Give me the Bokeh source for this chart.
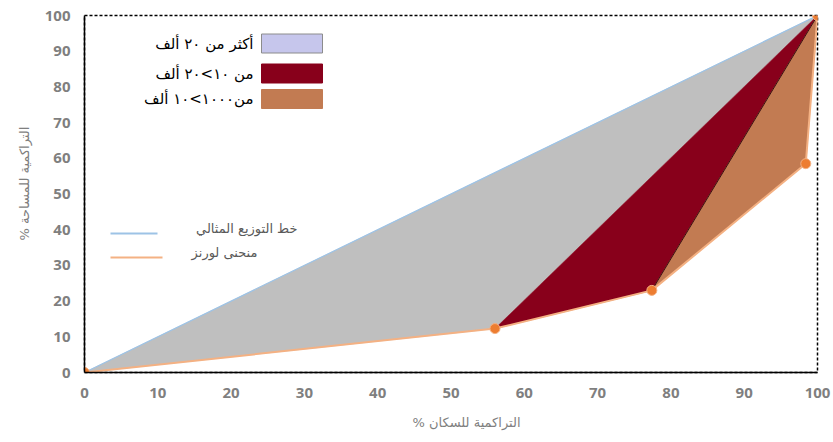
from bokeh.plotting import figure
from bokeh.models import FixedTicker, Label, Title
from bokeh.embed import file_html
from bokeh.resources import INLINE

# Cumulative shares (%) along the Lorenz curve
pop_cum = [0, 56, 77.4, 98.4, 100]
area_cum = [0, 12.3, 23, 58.5, 100]

# Line of equal distribution
ideal_x = [0, 100]
ideal_y = [0, 100]

# Size classes shaded between the curve and the diagonal
class_labels = ["أكثر من ٢٠ ألف", "من ١٠>٢٠ ألف", "من١٠٠٠>١٠ ألف"]
class_colors = ["#c6c6ec", "#88001b", "#c27b52"]
area_colors = ["#bfbfbf", "#88001b", "#c27b52"]
class_vertices = [[0, 1, 4], [1, 2, 4], [2, 3, 4]]

line_labels = ["خط التوزيع المثالي", "منحنى لورنز"]
line_colors = ["#9dc3e6", "#f4b183"]

ticks = [0, 10, 20, 30, 40, 50, 60, 70, 80, 90, 100]
x_title = "% التراكمية للسكان"
y_title = "% التراكمية للمساحة"

W, H = 833, 442
L, R, T, B = 84, 16, 15, 70
FW, FH = W - L - R, H - T - B

def dx(px):
    return (px - L) / FW * 100.0

def dy(py):
    return (H - B - py) / FH * 100.0

p = figure(width=W, height=H, x_range=(0, 100), y_range=(0, 100),
           output_backend="svg", toolbar_location=None,
           min_border_left=L, min_border_right=R,
           min_border_top=T, min_border_bottom=B)
p.background_fill_color = "white"
p.border_fill_color = "white"
p.grid.visible = False
p.outline_line_color = "black"
p.outline_line_dash = "3 2"
p.outline_line_width = 1.5

for ax in (p.xaxis[0], p.yaxis[0]):
    ax.ticker = FixedTicker(ticks=ticks)
    ax.axis_line_color = "black"
    ax.axis_line_width = 1.5
    ax.major_tick_line_color = None
    ax.minor_tick_line_color = None
    ax.major_tick_out = 0
    ax.major_tick_in = 0
    ax.major_label_text_font = "Open Sans"
    ax.major_label_text_font_style = "bold"
    ax.major_label_text_font_size = "15px"
    ax.major_label_text_color = "#7f7f7f"
p.xaxis.major_label_standoff = 15
p.yaxis.major_label_standoff = 14

# axis titles
p.add_layout(Title(text=x_title, align="left", offset=328, standoff=25,
                   text_font="DejaVu Sans", text_font_size="13px",
                   text_font_style="normal", text_color="#7f7f7f"), "below")
p.add_layout(Title(text=y_title, align="left", offset=132, standoff=20,
                   text_font="DejaVu Sans", text_font_size="13px",
                   text_font_style="normal", text_color="#7f7f7f"), "left")

# shaded regions
for verts, col in zip(class_vertices, area_colors):
    xs = [pop_cum[i] for i in verts]
    ys = [area_cum[i] for i in verts]
    p.patch(xs, ys, fill_color=col, line_color=col, line_width=0.5)
# dark edge between the red and brown regions
p.line([pop_cum[2], pop_cum[4]], [area_cum[2], area_cum[4]], line_color="#3a1010", line_width=1)

# equality line and Lorenz curve
p.line(ideal_x, ideal_y, line_color=line_colors[0], line_width=1.2)
p.line(pop_cum, area_cum, line_color=line_colors[1], line_width=2)
p.scatter(pop_cum, area_cum, size=10, fill_color="#ed7d31", line_color="#f4b183", line_width=1)

# class legend (swatch to the right of its label)
rows_y = [43, 73, 98.5]
for lab, col, ry in zip(class_labels, class_colors, rows_y):
    p.quad(left=dx(261), right=dx(322), bottom=dy(ry + 9.5), top=dy(ry - 9.5),
           fill_color=col, line_color="#8c8c8c" if col == class_colors[0] else col, line_width=1)
    p.add_layout(Label(x=dx(253), y=dy(ry), text=lab, text_align="right",
                       text_baseline="middle", text_font="DejaVu Sans",
                       text_font_size="15px", text_color="black"))

# line legend
line_rows = [233, 257]
line_ends = [157, 162]
text_right = [297, 257]
for lab, col, ry, le, tr in zip(line_labels, line_colors, line_rows, line_ends, text_right):
    p.line([dx(110), dx(le)], [dy(ry), dy(ry)], line_color=col, line_width=2)
    p.add_layout(Label(x=dx(tr), y=dy(ry - 5), text=lab, text_align="right",
                       text_baseline="middle", text_font="DejaVu Sans",
                       text_font_size="13px", text_color="#595959"))

open("out.html", "w").write(file_html(p, INLINE))
